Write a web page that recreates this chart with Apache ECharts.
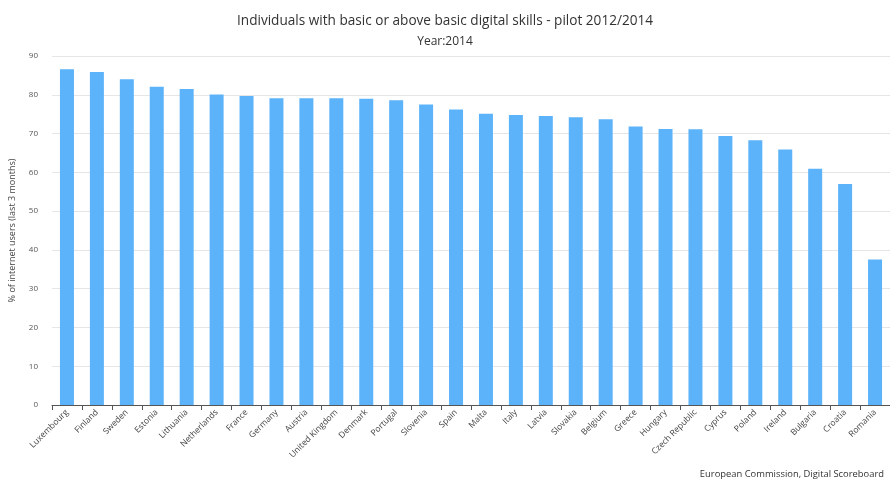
<!DOCTYPE html>
<html><head><meta charset="utf-8">
<script src="https://cdn.jsdelivr.net/npm/echarts@6/dist/echarts.min.js"></script>
<style>html,body{margin:0;padding:0;background:#fff}#c{width:890px;height:479px}</style>
</head><body><div id="c"></div>
<script>
var countries = ["Luxembourg","Finland","Sweden","Estonia","Lithuania","Netherlands","France","Germany","Austria","United Kingdom","Denmark","Portugal","Slovenia","Spain","Malta","Italy","Latvia","Slovakia","Belgium","Greece","Hungary","Czech Republic","Cyprus","Poland","Ireland","Bulgaria","Croatia","Romania"];
var values = [86.6,85.9,84.0,82.1,81.5,80.1,79.7,79.1,79.1,79.1,79.0,78.6,77.5,76.2,75.1,74.8,74.5,74.2,73.7,71.8,71.2,71.1,69.4,68.3,65.9,60.9,57.0,37.5];
var titleText = "Individuals with basic or above basic digital skills - pilot 2012/2014";
var subtitleText = "Year:2014";
var yAxisName = "% of internet users (last 3 months)";
var creditText = "European Commission, Digital Scoreboard";

var chart = echarts.init(document.getElementById('c'), null, {renderer:'canvas'});
var font = "'Open Sans',sans-serif";
chart.setOption({
  animation:false,
  title:[{text:titleText, left:'center', top:9, textStyle:{fontSize:13.6, fontWeight:'normal', color:'#333', fontFamily:font}},
         {text:subtitleText, left:'center', top:31, textStyle:{fontSize:12, fontWeight:'normal', color:'#333', fontFamily:font}},
         {text:creditText, right:1, top:465, textStyle:{fontSize:9.4, fontWeight:'normal', color:'#333', fontFamily:font}}],
  grid:{left:51, right:-1, top:56, bottom:74, containLabel:false},
  xAxis:{type:'category', data:countries,
    axisLine:{lineStyle:{color:'#555', width:1}},
    axisTick:{show:true, alignWithLabel:false, length:5, lineStyle:{color:'#555'}},
    axisLabel:{rotate:45, interval:0, fontSize:8.5, color:'#444', fontFamily:font, margin:6}},
  yAxis:{type:'value', min:0, max:90, interval:10,
    name:yAxisName, nameLocation:'middle', nameGap:35, nameTextStyle:{fontSize:9, color:'#444', fontFamily:font},
    axisLabel:{fontSize:8, color:'#555', fontFamily:font, margin:14},
    splitLine:{lineStyle:{color:'#e6e6e6'}},
    axisLine:{show:false}, axisTick:{show:false}},
  series:[{type:'bar', data:values, barWidth:14, itemStyle:{color:'#5db3f9'}}]
});
</script></body></html>
